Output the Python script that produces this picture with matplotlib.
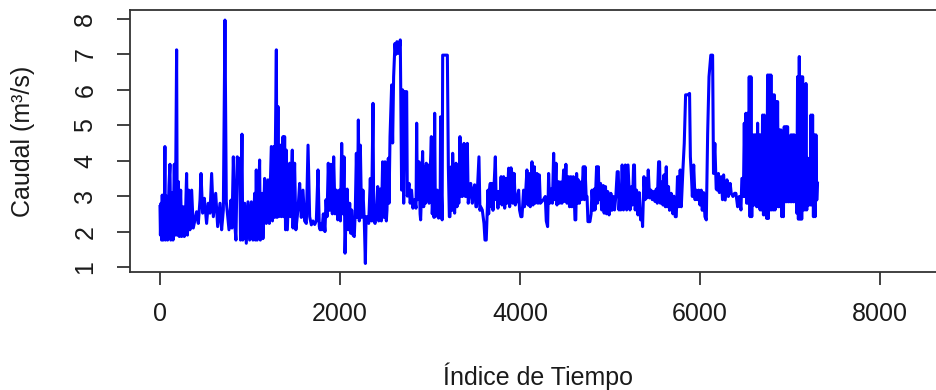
import matplotlib
matplotlib.use("Agg")
import matplotlib.pyplot as plt

# (índice, caudal), in segments
tramo_a = [(0, 2.75), (5, 1.9), (12, 2.8), (18, 1.76), (25, 3.03), (35, 1.76), (50, 3.0), (55, 4.4),
           (60, 1.76), (74, 3.0), (85, 1.76), (100, 3.3), (111, 3.9), (120, 1.76), (137, 3.1), (145, 1.76),
           (159, 3.9), (170, 1.9), (185, 7.13), (192, 1.9), (204, 3.41), (215, 1.86), (230, 3.17), (241, 1.86),
           (259, 2.7), (270, 1.86), (285, 2.6), (296, 3.64), (305, 1.9), (320, 3.17), (333, 2.05), (352, 3.17),
           (370, 2.1), (389, 2.33), (407, 2.56), (426, 2.23), (445, 2.9), (456, 3.64), (474, 2.52), (493, 2.94),
           (518, 2.23), (537, 2.8), (556, 2.52), (574, 3.64), (593, 2.42), (619, 3.08), (641, 2.14), (667, 2.8),
           (685, 2.05), (704, 2.61), (722, 7.97), (737, 2.84), (767, 2.05), (789, 2.89), (800, 2.1), (815, 4.11),
           (833, 2.14), (844, 1.76), (859, 4.11), (878, 3.64)]

tramo_b = [(885, 4.07), (895, 1.76), (911, 4.75), (920, 1.76), (941, 2.8), (959, 1.67), (978, 2.84), (996, 1.76),
           (1015, 2.84), (1033, 1.76), (1052, 3.08), (1060, 1.76), (1070, 3.74), (1080, 1.76), (1100, 3.2),
           (1107, 4.02), (1115, 1.76), (1135, 3.08), (1144, 1.8), (1163, 3.5), (1181, 2.23), (1200, 3.46),
           (1215, 2.23), (1237, 4.4), (1250, 2.3), (1265, 4.4), (1274, 2.4), (1293, 7.13), (1300, 2.4),
           (1311, 5.53), (1320, 2.42), (1340, 4.44), (1348, 2.42), (1367, 4.68), (1375, 2.42), (1385, 4.68),
           (1395, 2.05), (1404, 4.3), (1415, 2.05), (1441, 3.93), (1450, 2.42), (1470, 4.3), (1478, 2.1),
           (1496, 3.93), (1510, 2.05), (1533, 2.61), (1552, 3.36), (1570, 2.4), (1589, 3.17), (1607, 2.3),
           (1626, 2.23), (1645, 4.44), (1663, 2.42), (1682, 2.19), (1700, 2.3), (1719, 2.2), (1737, 2.3),
           (1756, 3.74), (1770, 2.14), (1780, 2.05)]

tramo_c = [(1789, 2.23), (1800, 2.05), (1815, 2.5), (1833, 2.0), (1845, 2.9), (1856, 2.42), (1870, 3.93),
           (1885, 2.6), (1900, 3.9), (1915, 2.5), (1930, 4.11), (1945, 2.5), (1960, 3.17), (1975, 2.33),
           (1993, 3.17), (2005, 2.3), (2019, 4.49), (2033, 2.5), (2045, 4.11), (2056, 1.39), (2067, 2.42),
           (2080, 3.2), (2093, 2.05), (2108, 2.8), (2120, 1.95), (2130, 2.61), (2145, 1.9), (2159, 1.86),
           (2170, 2.6), (2182, 4.21), (2193, 2.4), (2204, 5.15), (2215, 2.3), (2226, 4.44), (2240, 2.4),
           (2255, 3.17), (2270, 2.3), (2282, 1.10), (2290, 2.42), (2300, 2.42), (2319, 2.23), (2337, 3.5),
           (2350, 2.3), (2367, 5.62), (2375, 2.3), (2390, 2.23), (2400, 2.4), (2419, 3.27), (2430, 2.3),
           (2448, 3.2), (2460, 2.3), (2474, 3.97), (2490, 2.4), (2500, 3.97), (2515, 2.3), (2522, 2.6),
           (2537, 4.07), (2545, 2.8), (2556, 4.68), (2574, 6.14), (2585, 4.5), (2596, 6.37), (2605, 6.9),
           (2611, 7.31), (2620, 7.0), (2633, 7.36), (2648, 7.03), (2660, 7.2), (2670, 7.41), (2685, 3.17),
           (2696, 6.0), (2708, 2.8), (2722, 5.95)]

tramo_d = [(2741, 5.95), (2748, 3.0), (2767, 3.36), (2780, 2.8), (2795, 3.17), (2810, 2.66), (2830, 2.9),
           (2845, 2.66), (2852, 5.06), (2860, 2.9), (2867, 3.0), (2878, 3.97), (2890, 2.5), (2896, 2.33),
           (2905, 3.0), (2918, 4.26), (2930, 2.7), (2941, 3.83), (2950, 2.8), (2959, 3.93), (2970, 2.9),
           (2978, 3.88), (2990, 2.8), (3000, 3.5), (3015, 4.68), (3025, 2.5), (3037, 3.17), (3045, 2.4),
           (3052, 5.34), (3060, 2.42), (3070, 2.61), (3081, 3.17), (3095, 2.38), (3104, 3.13), (3112, 2.4),
           (3118, 5.24), (3126, 3.17), (3135, 2.33), (3141, 6.98), (3165, 6.98), (3193, 6.98), (3204, 3.83),
           (3215, 2.42), (3222, 2.42), (3237, 3.83), (3245, 2.6), (3252, 4.21), (3265, 2.7), (3274, 2.52),
           (3289, 3.93), (3300, 2.7), (3311, 3.83), (3320, 2.8), (3333, 4.68), (3345, 3.0), (3359, 2.99),
           (3370, 4.2), (3378, 4.49), (3390, 3.0), (3396, 2.99), (3415, 4.49), (3425, 2.8), (3433, 2.99),
           (3452, 3.36), (3470, 2.8), (3485, 3.2), (3496, 3.32), (3510, 2.7), (3518, 2.7), (3544, 4.11),
           (3555, 2.6), (3563, 2.7), (3581, 2.61), (3600, 2.23), (3611, 1.76), (3625, 1.76), (3630, 2.14),
           (3644, 3.17)]

tramo_e = [(3652, 2.5), (3660, 3.17), (3670, 3.36), (3680, 2.7), (3689, 3.36), (3700, 2.6), (3710, 3.2),
           (3726, 4.11), (3735, 2.9), (3744, 3.13), (3755, 2.66), (3763, 3.13), (3775, 2.8), (3790, 3.55),
           (3800, 2.75), (3818, 3.55), (3830, 2.66), (3845, 3.5), (3855, 2.8), (3874, 3.79), (3885, 2.7),
           (3900, 3.8), (3911, 3.64), (3920, 2.8), (3935, 3.64), (3948, 2.75), (3966, 2.9), (3985, 3.17),
           (3995, 2.61), (4010, 2.42), (4022, 2.42), (4040, 3.17), (4050, 2.7), (4065, 3.2), (4077, 3.74),
           (4090, 2.75), (4100, 3.64), (4114, 2.7), (4133, 3.97), (4145, 2.75), (4160, 3.83), (4170, 2.8),
           (4189, 3.64), (4200, 2.8), (4215, 3.6), (4226, 2.8), (4244, 2.85), (4260, 2.9), (4281, 2.99),
           (4292, 2.3), (4307, 2.14), (4318, 3.64), (4330, 2.8), (4345, 3.2), (4360, 2.8), (4374, 4.21),
           (4385, 2.9), (4400, 3.93), (4411, 2.75), (4429, 3.41), (4440, 2.8), (4455, 3.4), (4466, 2.8),
           (4485, 3.74), (4495, 2.85), (4510, 3.9), (4522, 2.8), (4540, 3.55), (4550, 2.7), (4565, 3.55),
           (4577, 2.7)]

tramo_f = [(4592, 3.55), (4605, 2.8), (4611, 2.33), (4620, 2.33), (4629, 3.64), (4640, 2.8), (4648, 3.46),
           (4660, 2.8), (4675, 3.4), (4685, 2.9), (4703, 3.83), (4715, 2.9), (4722, 3.83), (4735, 3.0),
           (4745, 2.99), (4755, 2.28), (4777, 2.28), (4790, 2.5), (4800, 3.17), (4814, 2.6), (4825, 3.2),
           (4833, 2.61), (4851, 3.83), (4860, 2.8), (4870, 3.83), (4880, 2.9), (4895, 3.36), (4907, 2.61),
           (4925, 3.3), (4935, 2.52), (4950, 3.27), (4962, 2.5), (4975, 3.13), (4990, 2.47), (5010, 3.08),
           (5020, 2.6), (5036, 2.99), (5050, 2.61), (5065, 3.0), (5080, 3.69), (5092, 3.69), (5100, 2.61),
           (5111, 3.13), (5120, 2.61), (5135, 3.88), (5150, 2.61), (5170, 3.88), (5185, 2.61), (5200, 3.88),
           (5222, 2.61), (5240, 3.27), (5250, 2.75), (5262, 3.88), (5272, 3.88), (5280, 2.61), (5295, 3.17),
           (5310, 2.47), (5325, 3.1), (5340, 2.33), (5355, 2.5), (5362, 2.14), (5377, 3.55), (5390, 2.9),
           (5400, 3.5), (5410, 2.95), (5425, 3.74), (5440, 2.95), (5455, 3.17), (5470, 2.9), (5485, 3.13),
           (5500, 2.85)]

tramo_g = [(5514, 3.2), (5525, 2.8), (5540, 3.97), (5551, 3.97), (5560, 2.8), (5575, 3.4), (5588, 2.75),
           (5600, 3.6), (5615, 2.7), (5625, 3.83), (5635, 2.7), (5650, 3.27), (5662, 2.6), (5680, 3.08),
           (5699, 2.5), (5710, 3.0), (5725, 2.42), (5736, 2.42), (5750, 3.55), (5765, 2.7), (5780, 3.74),
           (5792, 2.7), (5810, 3.74), (5825, 4.49), (5840, 5.86), (5866, 5.86), (5884, 5.90), (5893, 4.11),
           (5905, 3.55), (5915, 2.99), (5930, 3.88), (5945, 2.9), (5958, 3.17), (5970, 2.9), (5985, 3.17),
           (6000, 2.75), (6014, 3.17), (6025, 2.6), (6040, 3.1), (6055, 2.42), (6070, 2.33), (6085, 4.77),
           (6100, 6.37), (6120, 6.98), (6140, 6.98), (6150, 3.64), (6165, 4.49), (6180, 3.2), (6192, 3.17),
           (6205, 3.64), (6215, 3.1), (6236, 3.55), (6250, 2.9), (6262, 3.6), (6280, 2.89), (6300, 3.46),
           (6315, 2.99), (6335, 3.36), (6347, 3.08), (6366, 2.99), (6384, 3.08), (6399, 3.08), (6418, 2.7),
           (6436, 2.99), (6455, 2.61), (6465, 3.5)]

tramo_h = [(6473, 3.50), (6482, 2.99), (6492, 5.06), (6501, 2.99), (6510, 5.34), (6519, 2.80), (6529, 5.34),
           (6538, 2.80), (6547, 6.37), (6556, 2.42), (6566, 6.37), (6575, 2.42), (6584, 4.73), (6593, 2.75),
           (6603, 4.73), (6612, 2.75), (6621, 4.73), (6630, 2.70), (6640, 5.06), (6649, 2.70), (6658, 4.73),
           (6668, 2.61), (6677, 4.73), (6686, 2.61), (6695, 5.29), (6705, 2.47), (6714, 5.29), (6723, 2.47),
           (6732, 4.73), (6742, 2.37), (6751, 6.42), (6760, 2.37), (6769, 6.42), (6779, 2.61), (6788, 6.42),
           (6797, 2.61), (6806, 5.86), (6816, 2.61), (6825, 5.86), (6834, 2.61), (6843, 5.67), (6853, 2.70),
           (6862, 5.67), (6871, 2.70), (6880, 4.87), (6890, 2.70), (6899, 4.87), (6908, 2.42), (6918, 4.54),
           (6927, 2.42), (6936, 4.96), (6945, 2.84), (6955, 4.96), (6964, 2.84), (6973, 4.96), (6982, 2.84),
           (6992, 4.54), (7001, 2.84), (7010, 4.73), (7019, 2.84), (7029, 4.73), (7038, 2.84), (7047, 4.73),
           (7056, 2.84), (7066, 4.40), (7075, 2.52), (7084, 6.37), (7093, 2.35), (7103, 6.94), (7112, 2.35),
           (7121, 6.37), (7130, 2.35), (7140, 6.37), (7149, 2.61), (7158, 4.11), (7167, 2.61), (7177, 6.18),
           (7186, 2.61), (7195, 4.07), (7205, 2.75), (7214, 4.07), (7223, 2.75), (7232, 5.29), (7242, 2.75),
           (7251, 5.29), (7260, 2.42), (7269, 4.73), (7279, 2.42), (7288, 4.73), (7297, 2.89), (7306, 3.41)]

x_ticks = [0, 2000, 4000, 6000, 8000]
y_ticks = [1, 2, 3, 4, 5, 6, 7, 8]
x_label = "Índice de Tiempo"
y_label = "Caudal (m³/s)"

plt.rcParams['font.family'] = ['Liberation Sans', 'DejaVu Sans']

fig = plt.figure(figsize=(9.36, 3.9), dpi=100)
ax = fig.add_axes([130 / 936, 118 / 390, 815 / 936, 262 / 390])

puntos = tramo_a + tramo_b + tramo_c + tramo_d + tramo_e + tramo_f + tramo_g + tramo_h
ax.plot([p[0] for p in puntos], [p[1] for p in puntos], color='#0000FF', lw=2.2,
        solid_joinstyle='round', solid_capstyle='butt')

ax.set_xlim(-333, 8722)
ax.set_ylim(0.859, 8.254)
ax.set_xticks(x_ticks)
ax.set_xticklabels([str(v) for v in x_ticks])
ax.set_yticks(y_ticks)
ax.set_yticklabels([str(v) for v in y_ticks], rotation=90, va='center')

edge = '#333333'
for side in ['left', 'bottom', 'top']:
    ax.spines[side].set_color(edge)
    ax.spines[side].set_linewidth(1.3)
ax.spines['right'].set_visible(False)

ax.tick_params(axis='both', direction='out', length=9.5, width=1.3, color=edge,
               labelsize=18, labelcolor='#1a1a1a')
ax.tick_params(axis='x', pad=12)
ax.tick_params(axis='y', pad=14)

fig.text(538 / 936, 1 - 376 / 390, x_label, ha='center', va='center', fontsize=18, color='#1a1a1a')
fig.text(23 / 936, 1 - 141 / 390, y_label, ha='center', va='center', rotation=90, fontsize=18,
         color='#1a1a1a')

fig.savefig('out.png', dpi=100)
